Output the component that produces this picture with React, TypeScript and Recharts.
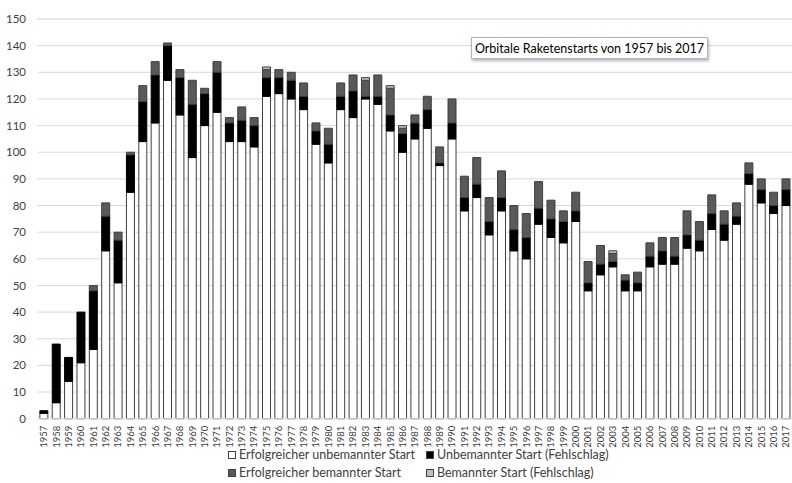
import React from 'react';
import { BarChart, Bar, XAxis, YAxis, CartesianGrid } from 'recharts';

const years = [
  1957, 1958, 1959, 1960, 1961, 1962, 1963, 1964, 1965, 1966, 1967, 1968, 1969, 1970, 1971, 1972,
  1973, 1974, 1975, 1976, 1977, 1978, 1979, 1980, 1981, 1982, 1983, 1984, 1985, 1986, 1987, 1988,
  1989, 1990, 1991, 1992, 1993, 1994, 1995, 1996, 1997, 1998, 1999, 2000, 2001, 2002, 2003, 2004,
  2005, 2006, 2007, 2008, 2009, 2010, 2011, 2012, 2013, 2014, 2015, 2016, 2017,
];

// Erfolgreicher unbemannter Start
const unmannedSuccess = [
  2, 6, 14, 21, 26, 63, 51, 85, 104, 111, 127, 114, 98, 110, 115, 104,
  104, 102, 121, 122, 120, 116, 103, 96, 116, 113, 120, 118, 108, 100, 105, 109,
  95, 105, 78, 83, 69, 78, 63, 60, 73, 68, 66, 74, 48, 54, 57, 48,
  48, 57, 58, 58, 64, 63, 71, 67, 73, 88, 81, 77, 80,
];

// Unbemannter Start (Fehlschlag)
const unmannedFailure = [
  1, 22, 9, 19, 22, 13, 16, 14, 15, 18, 13, 14, 20, 12, 15, 7,
  8, 8, 7, 6, 7, 5, 5, 7, 5, 10, 1, 3, 6, 7, 6, 7,
  1, 6, 5, 5, 5, 5, 8, 8, 6, 7, 8, 4, 3, 4, 2, 4,
  3, 4, 5, 3, 5, 4, 6, 6, 3, 4, 5, 3, 6,
];

// Erfolgreicher bemannter Start
const mannedSuccess = [
  0, 0, 0, 0, 2, 5, 3, 1, 6, 5, 1, 3, 9, 2, 4, 2,
  5, 3, 3, 3, 3, 5, 3, 6, 5, 6, 6, 8, 10, 2, 3, 5,
  6, 9, 8, 10, 9, 10, 9, 9, 10, 7, 4, 7, 8, 7, 3, 2,
  4, 5, 5, 7, 9, 7, 7, 5, 5, 4, 4, 5, 4,
];

// Bemannter Start (Fehlschlag)
const mannedFailure = [
  0, 0, 0, 0, 0, 0, 0, 0, 0, 0, 0, 0, 0, 0, 0, 0,
  0, 0, 1, 0, 0, 0, 0, 0, 0, 0, 1, 0, 1, 1, 0, 0,
  0, 0, 0, 0, 0, 0, 0, 0, 0, 0, 0, 0, 0, 0, 1, 0,
  0, 0, 0, 0, 0, 0, 0, 0, 0, 0, 0, 0, 0,
];

const yTicks = [0, 10, 20, 30, 40, 50, 60, 70, 80, 90, 100, 110, 120, 130, 140, 150];
const minorTicks = [
  0, 2, 4, 6, 8, 12, 14, 16, 18, 22, 24, 26, 28, 32, 34, 36, 38, 42, 44, 46, 48,
  52, 54, 56, 58, 62, 64, 66, 68, 72, 74, 76, 78, 82, 84, 86, 88, 92, 94, 96, 98,
  102, 104, 106, 108, 112, 114, 116, 118, 122, 124, 126, 128, 132, 134, 136, 138,
  142, 144, 146, 148, 150,
];

const title = 'Orbitale Raketenstarts von 1957 bis 2017';

const seriesNames = {
  us: 'Erfolgreicher unbemannter Start',
  uf: 'Unbemannter Start (Fehlschlag)',
  ms: 'Erfolgreicher bemannter Start',
  mf: 'Bemannter Start (Fehlschlag)',
};

const colors = {
  us: '#ffffff',
  uf: '#000000',
  ms: '#595959',
  mf: '#bfbfbf',
};

const data = years.map((y, i) => ({
  year: String(y),
  us: unmannedSuccess[i],
  uf: unmannedFailure[i],
  ms: mannedSuccess[i],
  mf: mannedFailure[i],
}));

const FONT = 'Lato, "Liberation Sans", sans-serif';

const XTick = (props: any) => {
  const { x, y, payload } = props;
  return (
    <text
      x={0}
      y={0}
      transform={`translate(${x},${y + 5}) rotate(-90)`}
      textAnchor="end"
      dominantBaseline="central"
      fontSize={9.5}
      fill="#404040"
      fontFamily={FONT}
    >
      {payload.value}
    </text>
  );
};

const legendOrder: Array<keyof typeof seriesNames> = ['us', 'uf', 'ms', 'mf'];

const LegendBox = () => (
  <div
    style={{
      position: 'absolute',
      left: 228,
      top: 446,
      width: 420,
      display: 'grid',
      gridTemplateColumns: '198px 210px',
      rowGap: 1,
      fontFamily: FONT,
      fontSize: 12.5,
      color: '#404040',
    }}
  >
    {legendOrder.map((k) => (
      <div key={k} style={{ display: 'flex', alignItems: 'center', height: 17, whiteSpace: 'nowrap' }}>
        <span
          style={{
            display: 'inline-block',
            width: 6,
            height: 6,
            background: colors[k],
            border: '1px solid #404040',
            marginRight: 3,
          }}
        />
        <span>{seriesNames[k]}</span>
      </div>
    ))}
  </div>
);

export default function App() {
  return (
    <div
      style={{
        position: 'fixed',
        left: 0,
        top: 0,
        width: 792,
        height: 483,
        overflow: 'hidden',
        background: '#ffffff',
      }}
    >
      <BarChart
        width={809}
        height={483}
        data={data}
        margin={{ top: 19, right: 17, bottom: 0, left: 0 }}
        barCategoryGap="19%"
        style={{ fontFamily: FONT }}
      >
        <YAxis yAxisId="minor" hide domain={[0, 150]} ticks={minorTicks} />
        <YAxis
          yAxisId="main"
          width={37.5}
          domain={[0, 150]}
          ticks={yTicks}
          interval={0}
          axisLine={false}
          tickLine={false}
          tickSize={0}
          tickMargin={11.5}
          tick={{ fontSize: 11.5, fill: '#404040', fontFamily: FONT }}
        />
        <CartesianGrid yAxisId="minor" vertical={false} stroke="#eeeeee" />
        <CartesianGrid yAxisId="main" vertical={false} stroke="#d9d9d9" />
        <XAxis
          dataKey="year"
          interval={0}
          height={64.3}
          tickLine={false}
          tickSize={0}
          axisLine={{ stroke: '#d9d9d9' }}
          tick={<XTick />}
        />
        <Bar dataKey="us" name={seriesNames.us} stackId="a" yAxisId="main" fill={colors.us} stroke="#3f3f3f" strokeWidth={1} isAnimationActive={false} />
        <Bar dataKey="uf" name={seriesNames.uf} stackId="a" yAxisId="main" fill={colors.uf} stroke="#000000" strokeWidth={1} isAnimationActive={false} />
        <Bar dataKey="ms" name={seriesNames.ms} stackId="a" yAxisId="main" fill={colors.ms} stroke="#3f3f3f" strokeWidth={1} isAnimationActive={false} />
        <Bar dataKey="mf" name={seriesNames.mf} stackId="a" yAxisId="main" fill={colors.mf} stroke="#3f3f3f" strokeWidth={1} isAnimationActive={false} />
      </BarChart>
      <div
        style={{
          position: 'absolute',
          left: 471,
          top: 37,
          width: 235,
          height: 20,
          border: '1px solid #a8b6cf',
          boxShadow: '1px 2px 3px rgba(0,0,0,0.3)',
          background: '#ffffff',
          fontFamily: FONT,
          fontSize: 12.5,
          color: '#000000',
          display: 'flex',
          alignItems: 'center',
          justifyContent: 'center',
          whiteSpace: 'nowrap',
        }}
      >
        {title}
      </div>
      <LegendBox />
    </div>
  );
}
